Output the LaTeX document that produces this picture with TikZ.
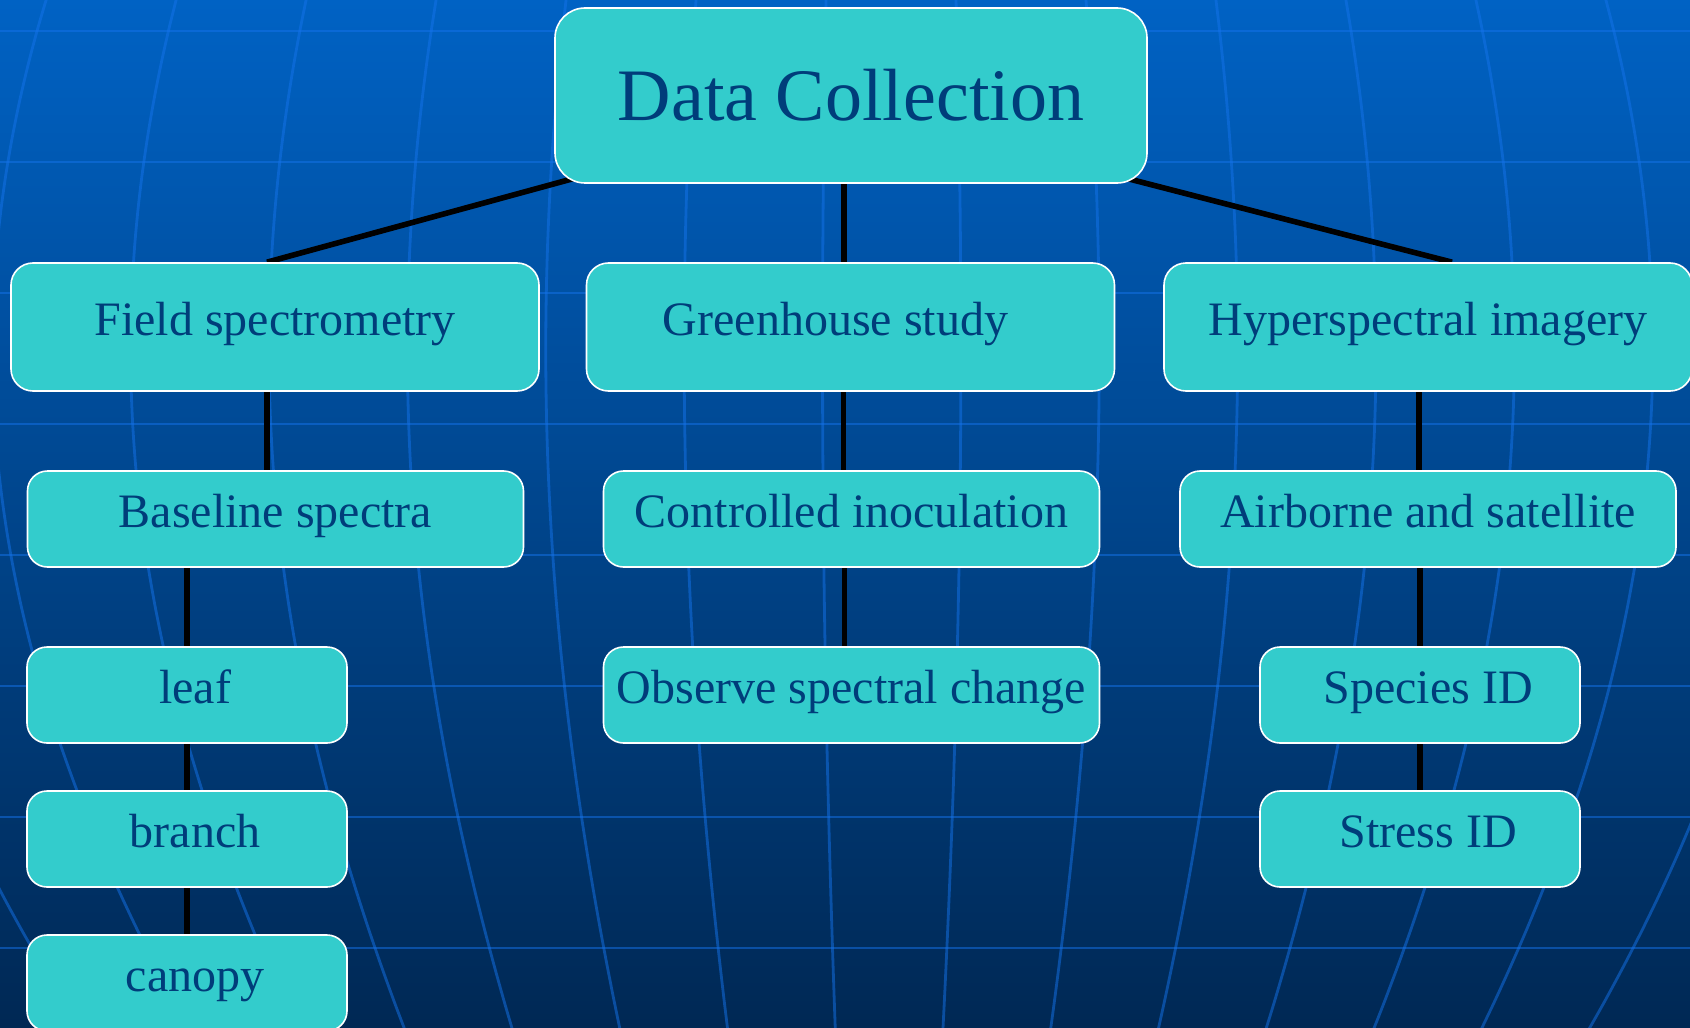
\documentclass[tikz,border=0pt]{standalone}
\usepackage{fontspec}
\setmainfont{Liberation Serif}
\usetikzlibrary{calc}
\definecolor{boxfill}{RGB}{51,204,204}
\definecolor{boxtext}{RGB}{0,61,122}
\definecolor{bgtop}{RGB}{0,98,196}
\definecolor{bgbottom}{RGB}{0,40,84}
\definecolor{gridblue}{RGB}{20,115,235}
\pgfdeclarelayer{grid}
\pgfdeclarelayer{links}
\pgfsetlayers{grid,links,main}

\begin{document}
\begin{tikzpicture}[x=0.5pt,y=-0.5pt]
% Define styles
\tikzstyle{box}=[rectangle, draw=white, line width=0.8pt, fill=boxfill, text=boxtext, inner sep=0pt]
\tikzstyle{rootnode}=[box, rounded corners=15pt, minimum width=296pt, minimum height=87.5pt, font=\fontsize{37}{44}\selectfont]
\tikzstyle{itemnode}=[box, font=\fontsize{24}{29}\selectfont, text height=16.8pt, text depth=8.6pt]
\tikzstyle{levelone}=[itemnode, rounded corners=11pt, minimum width=264pt, minimum height=64pt]
\tikzstyle{leveltwo}=[itemnode, rounded corners=10pt, minimum width=248pt, minimum height=48pt]
\tikzstyle{leafnode}=[itemnode, rounded corners=10pt, minimum width=160pt, minimum height=48pt, execute at begin node={\hspace*{8pt}}]
\tikzstyle{link}=[draw=black, line width=2.8pt]
\tikzstyle{gridline}=[draw=gridblue, opacity=0.5, line width=1.4pt]

\useasboundingbox (0,0) rectangle (1690,1027);

% Background
\begin{pgfonlayer}{grid}
\shade[top color=bgtop, bottom color=bgbottom] (0,0) rectangle (1690,1027);
\foreach \y in {31,162,...,948}
  \draw[gridline] (0,\y) -- (1690,\y);
\foreach \k in {-1,...,13}
  \draw[gridline] plot[domain=-10:1040, samples=30, smooth]
    ({880+(46+130*(\k)-880)*cos(deg((\x-350)/1000))/0.9394}, \x);
\end{pgfonlayer}

% Root
\node[rootnode] (root) at (851,95.5) {Data Collection};

% First level
\node[levelone] (field) at (275,327) {Field spectrometry};
\node[levelone] (green) at (850.5,327) {Greenhouse study\hspace*{15pt}};
\node[levelone] (hyper) at (1428,327) {Hyperspectral imagery};

% Second level
\node[leveltwo] (base) at (275.5,519) {Baseline spectra};
\node[leveltwo] (ctrl) at (851.5,519) {Controlled inoculation};
\node[leveltwo] (air) at (1428,519) {Airborne and satellite};

% Lower levels
\node[leafnode] (leaf) at (187,695) {leaf};
\node[leafnode] (branch) at (187,839) {branch};
\node[leafnode] (canopy) at (187,983) {canopy};
\node[leveltwo] (obs) at (851.5,695) {Observe spectral change};
\node[leafnode] (species) at (1420,695) {Species ID};
\node[leafnode] (stress) at (1420,839) {Stress ID};

% Connectors
\begin{pgfonlayer}{links}
\draw[link] ($(root.south west)!-0.12!([xshift=-4pt]field.north)$) -- ([xshift=-4pt]field.north);
\draw[link] ([xshift=-3.5pt]root.south) -- ([xshift=-3.5pt]root.south |- green.north);
\draw[link] ($(root.south east)!-0.12!([xshift=12pt]hyper.north)$) -- ([xshift=12pt]hyper.north);
\draw[link] ([xshift=-4pt]field.south) -- ([xshift=-4pt]field.south |- base.north);
\draw[link] ([xshift=-3.5pt]green.south) -- ([xshift=-3.5pt]green.south |- ctrl.north);
\draw[link] ([xshift=-4.5pt]hyper.south) -- ([xshift=-4.5pt]hyper.south |- air.north);
\draw[link] (leaf.north |- base.south) -- (leaf.north);
\draw[link] (leaf.south) -- (branch.north);
\draw[link] (branch.south) -- (canopy.north);
\draw[link] ([xshift=-3.5pt]ctrl.south) -- ([xshift=-3.5pt]ctrl.south |- obs.north);
\draw[link] (species.north |- air.south) -- (species.north);
\draw[link] (species.south) -- (stress.north);
\end{pgfonlayer}

\end{tikzpicture}
\end{document}
